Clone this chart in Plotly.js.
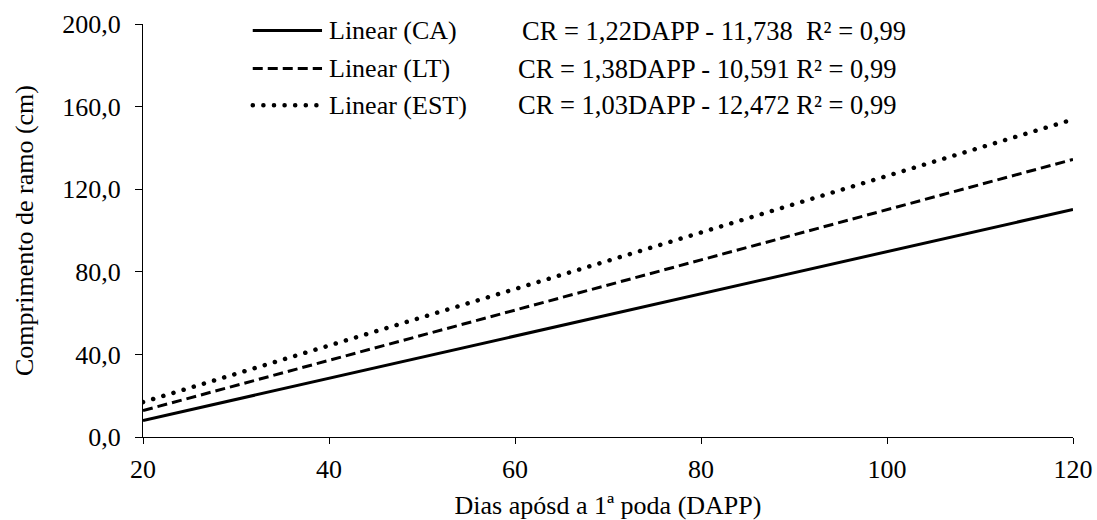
<!DOCTYPE html>
<html>
<head>
<meta charset="utf-8">
<script src="https://cdn.plot.ly/plotly-3.0.1.min.js"></script>
</head>
<body style="margin:0;background:#fff">
<div id="chart" style="width:1097px;height:520px"></div>
<script>
// Days after first pruning (DAPP)
const dapp = [20, 120];
// Branch length (cm)
const serieCA = [8.0, 110.2];
const serieLT = [12.8, 134.4];
const serieEST = [16.9, 153.8];

const seriesNames = ['Linear (CA)', 'Linear (LT)', 'Linear (EST)'];
const equations = [
  'CR = 1,22DAPP - 11,738\u00a0\u00a0R\u00b2 = 0,99',
  'CR = 1,38DAPP - 10,591 R\u00b2 = 0,99',
  'CR = 1,03DAPP - 12,472 R\u00b2 = 0,99'
];
const xTicks = [20, 40, 60, 80, 100, 120];
const yTicks = [0, 40, 80, 120, 160, 200];

const FONT = 'Liberation Serif';
const dashes = ['solid', '10px,5px', '0.1px,10.5px'];
const widths = [3, 3, 4.5];
const seriesY = [serieCA, serieLT, serieEST];

const traces = seriesY.map((y, i) => ({
  x: dapp, y: y, type: 'scatter', mode: 'lines', name: seriesNames[i],
  line: { color: '#000', width: widths[i], dash: dashes[i] },
  hoverinfo: 'skip', showlegend: false
}));

// custom legend (line samples + labels + equations)
const rowsY = [0.984, 0.892, 0.803];
const shapes = rowsY.map((ry, i) => ({
  type: 'line', xref: 'paper', yref: 'paper',
  x0: 0.118, x1: 0.1925, y0: ry, y1: ry,
  line: { color: '#000', width: widths[i], dash: dashes[i] }
}));
const annotations = [];
rowsY.forEach((ry, i) => {
  annotations.push({
    xref: 'paper', yref: 'paper', x: 0.198, y: ry, xanchor: 'left', yanchor: 'middle',
    text: seriesNames[i], showarrow: false, font: { family: FONT, size: 26 }
  });
  annotations.push({
    xref: 'paper', yref: 'paper', x: i === 0 ? 0.8226 : 0.8118, y: ry, xanchor: 'right', yanchor: 'middle',
    text: equations[i], showarrow: false, font: { family: FONT, size: 26.5 }
  });
});

const layout = {
  width: 1097, height: 520,
  margin: { l: 143, r: 24, t: 24, b: 83, pad: 0 },
  paper_bgcolor: '#fff', plot_bgcolor: '#fff',
  separators: ',.',
  font: { family: FONT, size: 26, color: '#000000' },
  showlegend: false,
  xaxis: {
    range: [20, 120], tickvals: xTicks, ticktext: xTicks.map(String),
    ticks: 'outside', ticklen: 6, tickwidth: 1.3, tickcolor: '#000',
    showline: true, linecolor: '#000', linewidth: 1.3,
    showgrid: false, zeroline: false, ticklabelstandoff: 3,
    tickfont: { family: FONT, size: 26 },
    title: { text: 'Dias apósd a 1ª poda (DAPP)', font: { family: FONT, size: 26 }, standoff: 15 }
  },
  yaxis: {
    range: [0, 200], tickvals: yTicks, ticktext: yTicks.map(v => v.toFixed(1).replace('.', ',')),
    ticks: 'outside', ticklen: 7, tickwidth: 1.3, tickcolor: '#000',
    showline: true, linecolor: '#000', linewidth: 1.3,
    showgrid: false, zeroline: false, ticklabelstandoff: 9,
    tickfont: { family: FONT, size: 26 },
    title: { text: 'Comprimento de ramo (cm)', font: { family: FONT, size: 26 }, standoff: 21 }
  },
  shapes: shapes,
  annotations: annotations
};

Plotly.newPlot('chart', traces, layout, { displayModeBar: false }).then(gd => {
  const roundCaps = () => {
    const lines = gd.querySelectorAll('.scatterlayer .trace .js-line');
    if (lines[2]) lines[2].style.strokeLinecap = 'round';
    const sh = gd.querySelectorAll('.shapelayer path');
    if (sh[2]) sh[2].style.strokeLinecap = 'round';
  };
  roundCaps();
  gd.on('plotly_afterplot', roundCaps);
});
</script>
</body>
</html>
